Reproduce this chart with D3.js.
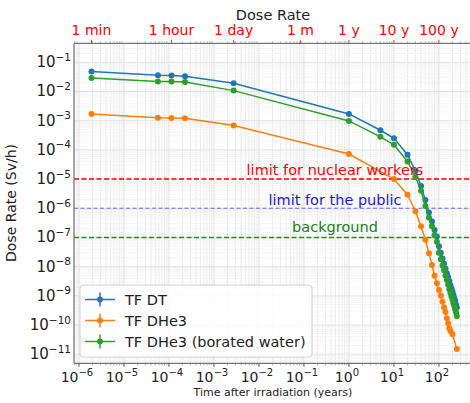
<!DOCTYPE html>
<html>
<head>
<meta charset="utf-8">
<script src="https://cdn.jsdelivr.net/npm/d3@7"></script>
<style>
html,body{margin:0;padding:0;background:#fff;}
svg{display:block;font-family:"DejaVu Sans",sans-serif;}
</style>
</head>
<body>
<svg id="chart" width="470" height="403"></svg>
<script>
// ---------- data ----------
const seriesNames = ["TF DT", "TF DHe3", "TF DHe3 (borated water)"];
const seriesColors = ["#1f77b4", "#ff7f0e", "#2ca02c"];

// time after irradiation (years)
const timeDT = [1.9e-6, 5.7e-5, 1.14e-4, 2.28e-4, 2.74e-3, 1, 5, 10,
  20, 30, 40, 50, 60, 70, 80, 90, 100, 110, 120, 130, 140, 150, 160, 170,
  180, 190, 200, 210, 220, 230, 240, 250];
const doseDT = [4.8e-2, 3.6e-2, 3.5e-2, 3.3e-2, 1.9e-2, 1.7e-3, 4.7e-4, 2.5e-4,
  6.8e-5, 1.9e-5, 5.8e-6, 1.9e-6, 7.1e-7, 3.5e-7, 1.8e-7, 1.07e-7, 5.0e-8, 3.0e-8,
  1.9e-8, 1.26e-8, 8.5e-9, 6.0e-9, 4.4e-9, 3.2e-9, 2.3e-9, 1.8e-9, 1.4e-9,
  1.07e-9, 8.3e-10, 6.6e-10, 5.1e-10, 4.0e-10];

const timeDHe3 = [1.9e-6, 5.7e-5, 1.14e-4, 2.28e-4, 2.74e-3, 1, 10,
  20, 30, 40, 50, 60, 70, 80, 90, 100, 110, 120, 130, 140, 150, 160, 170,
  180, 200, 250];
const doseDHe3 = [1.7e-3, 1.26e-3, 1.23e-3, 1.2e-3, 6.8e-4, 7.2e-5, 1.0e-5,
  2.9e-6, 7.9e-7, 2.4e-7, 8.3e-8, 2.9e-8, 1.15e-8, 4.9e-9, 2.7e-9, 1.6e-9,
  1.02e-9, 6.3e-10, 4.0e-10, 2.8e-10, 1.7e-10, 1.15e-10, 7.8e-11, 6.3e-11,
  4.8e-11, 1.5e-11];

const timeBor = timeDT;
const doseBor = [2.9e-2, 2.2e-2, 2.2e-2, 2.1e-2, 1.07e-2, 9.8e-4, 2.8e-4, 1.5e-4,
  4.0e-5, 1.2e-5, 4.0e-6, 1.2e-6, 4.8e-7, 2.4e-7, 1.2e-7, 7.1e-8, 3.0e-8, 1.8e-8,
  1.1e-8, 7.6e-9, 5.0e-9, 3.5e-9, 2.4e-9, 1.7e-9, 1.26e-9, 9.5e-10, 7.4e-10,
  5.6e-10, 4.5e-10, 3.5e-10, 2.7e-10, 2.0e-10];

// reference levels
const refLabels = ["limit for nuclear workers", "limit for the public", "background"];
const refValues = [1e-5, 1e-6, 1e-7];
const refLineColors = ["#ff0000", "#6b6bff", "#1f8f1f"];
const refTextColors = ["#ff0000", "#1a1acc", "#1a7f1a"];

// top axis
const topLabels = ["1 min", "1 hour", "1 day", "1 m", "1 y", "10 y", "100 y"];
const topYears = [1/525960, 1/8766, 1/365.25, 1/12, 1, 10, 100];

// tick exponents
const xExps = [-6, -5, -4, -3, -2, -1, 0, 1, 2];
const yExps = [-11, -10, -9, -8, -7, -6, -5, -4, -3, -2, -1];

// ---------- drawing ----------
const svg = d3.select("#chart");
const L = 74, R = 471, T = 43.3, B = 363.3;
const x = d3.scaleLog().domain([Math.pow(10, -6.11), Math.pow(10, 2.69)]).range([L, L + 396]);
const y = d3.scaleLog().domain([Math.pow(10, -11.31), Math.pow(10, -0.35)]).range([B, T]);

svg.append("defs").append("clipPath").attr("id", "clip")
  .append("rect").attr("x", L).attr("y", T).attr("width", R - L).attr("height", B - T);

const grid = svg.append("g");
// minor gridlines
const xMinor = [];
for (let e = -7; e <= 2; e++) for (let m = 2; m <= 9; m++) {
  const v = m * Math.pow(10, e);
  if (x(v) > L && x(v) < R) xMinor.push(v);
}
const yMinor = [];
for (let e = -12; e <= -1; e++) for (let m = 2; m <= 9; m++) {
  const v = m * Math.pow(10, e);
  if (y(v) > T && y(v) < B) yMinor.push(v);
}
grid.selectAll(".xm").data(xMinor).join("line")
  .attr("x1", d => x(d)).attr("x2", d => x(d)).attr("y1", T).attr("y2", B)
  .attr("stroke", "#e6e6e6").attr("stroke-width", 0.8);
grid.selectAll(".ym").data(yMinor).join("line")
  .attr("x1", L).attr("x2", R).attr("y1", d => y(d)).attr("y2", d => y(d))
  .attr("stroke", "#f2f2f2").attr("stroke-width", 0.8);
grid.selectAll(".xM").data(xExps).join("line")
  .attr("x1", d => x(Math.pow(10, d))).attr("x2", d => x(Math.pow(10, d))).attr("y1", T).attr("y2", B)
  .attr("stroke", "#dadada").attr("stroke-width", 0.8);
grid.selectAll(".yM").data(yExps).join("line")
  .attr("x1", L).attr("x2", R).attr("y1", d => y(Math.pow(10, d))).attr("y2", d => y(Math.pow(10, d)))
  .attr("stroke", "#dadada").attr("stroke-width", 0.8);

// reference lines
const refs = svg.append("g").attr("clip-path", "url(#clip)");
refValues.forEach((v, i) => {
  refs.append("line").attr("x1", L).attr("x2", R).attr("y1", y(v)).attr("y2", y(v))
    .attr("stroke", refLineColors[i]).attr("stroke-width", i === 1 ? 1 : 1.5)
    .attr("stroke-dasharray", i === 1 ? "4,2.5" : "5,2.5");
});

// series
const series = [
  {t: timeDT, d: doseDT, c: seriesColors[0]},
  {t: timeDHe3, d: doseDHe3, c: seriesColors[1]},
  {t: timeBor, d: doseBor, c: seriesColors[2]}
];
const line = d3.line().x(p => x(p[0])).y(p => y(p[1]));
const plot = svg.append("g").attr("clip-path", "url(#clip)");
series.forEach(s => {
  const pts = s.t.map((t, i) => [t, s.d[i]]);
  plot.append("path").datum(pts).attr("d", line).attr("fill", "none")
    .attr("stroke", s.c).attr("stroke-width", 1.5);
  plot.selectAll(null).data(pts).join("circle")
    .attr("cx", p => x(p[0])).attr("cy", p => y(p[1])).attr("r", 3).attr("fill", s.c);
});

// reference texts (above data)
const refTextX = 335;
const refTextY = [175, 205, 232];
refLabels.forEach((t, i) => {
  svg.append("text").attr("x", refTextX).attr("y", refTextY[i]).attr("text-anchor", "middle")
    .attr("font-size", 14.5).attr("fill", refTextColors[i]).text(t);
});

// spines
svg.append("line").attr("x1", L).attr("x2", L).attr("y1", T).attr("y2", B).attr("stroke", "#555").attr("stroke-width", 1);
svg.append("line").attr("x1", L).attr("x2", R).attr("y1", B).attr("y2", B).attr("stroke", "#555").attr("stroke-width", 1);
svg.append("line").attr("x1", L).attr("x2", R).attr("y1", T).attr("y2", T).attr("stroke", "#555").attr("stroke-width", 1);

// bottom ticks
svg.selectAll(".bt").data(xExps).join("line")
  .attr("x1", d => x(Math.pow(10, d))).attr("x2", d => x(Math.pow(10, d))).attr("y1", B).attr("y2", B + 3.5)
  .attr("stroke", "#555");
svg.selectAll(".btm").data(xMinor).join("line")
  .attr("x1", d => x(d)).attr("x2", d => x(d)).attr("y1", B).attr("y2", B + 2)
  .attr("stroke", "#777").attr("stroke-width", 0.6);
// top ticks
svg.selectAll(".ttm").data(xMinor).join("line")
  .attr("x1", d => x(d)).attr("x2", d => x(d)).attr("y1", T).attr("y2", T - 2)
  .attr("stroke", "#888").attr("stroke-width", 0.6);
svg.selectAll(".tt").data(topYears).join("line")
  .attr("x1", d => x(d)).attr("x2", d => x(d)).attr("y1", T).attr("y2", T - 3.5)
  .attr("stroke", "#ff0000").attr("stroke-width", 0.8);

// bottom tick labels
xExps.forEach(e => {
  const t = svg.append("text").attr("x", x(Math.pow(10, e)) - 2).attr("y", 382)
    .attr("text-anchor", "middle").attr("font-size", 14).attr("fill", "#222");
  t.append("tspan").text("10");
  t.append("tspan").attr("dy", -6).attr("font-size", 10).text(e < 0 ? "\u2212" + (-e) : String(e));
});
// left tick labels
yExps.forEach(e => {
  const t = svg.append("text").attr("x", 71).attr("y", y(Math.pow(10, e)) + 5)
    .attr("text-anchor", "end").attr("font-size", 15).attr("fill", "#222");
  t.append("tspan").text("10");
  t.append("tspan").attr("dy", -6.5).attr("font-size", 10.5).text("\u2212" + (-e));
});
// top tick labels
topLabels.forEach((lab, i) => {
  svg.append("text").attr("x", x(topYears[i])).attr("y", 35).attr("text-anchor", "middle")
    .attr("font-size", 14).attr("fill", "#ff0000").text(lab);
});

// titles
svg.append("text").attr("x", 273).attr("y", 20).attr("text-anchor", "middle")
  .attr("font-size", 14.5).attr("fill", "#222").text("Dose Rate");
svg.append("text").attr("x", 273).attr("y", 396).attr("text-anchor", "middle")
  .attr("font-size", 11).attr("fill", "#222").text("Time after irradiation (years)");
svg.append("text").attr("transform", "translate(16,203) rotate(-90)").attr("text-anchor", "middle")
  .attr("font-size", 14).attr("fill", "#222").text("Dose Rate (Sv/h)");

// legend
const lg = svg.append("g");
lg.append("rect").attr("x", 80).attr("y", 285).attr("width", 232).attr("height", 72).attr("rx", 3)
  .attr("fill", "#fff").attr("fill-opacity", 0.85).attr("stroke", "#d0d0d0").attr("stroke-width", 1);
seriesNames.forEach((n, i) => {
  const cy = 299.5 + i * 21;
  lg.append("line").attr("x1", 85).attr("x2", 115).attr("y1", cy).attr("y2", cy)
    .attr("stroke", seriesColors[i]).attr("stroke-width", 1.5);
  lg.append("line").attr("x1", 100).attr("x2", 100).attr("y1", cy - 7).attr("y2", cy + 7)
    .attr("stroke", seriesColors[i]).attr("stroke-width", 1.5);
  lg.append("circle").attr("cx", 100).attr("cy", cy).attr("r", 3).attr("fill", seriesColors[i]);
  lg.append("text").attr("x", 125).attr("y", cy + 5).attr("font-size", 14.5).attr("fill", "#222").text(n);
});
</script>
</body>
</html>
